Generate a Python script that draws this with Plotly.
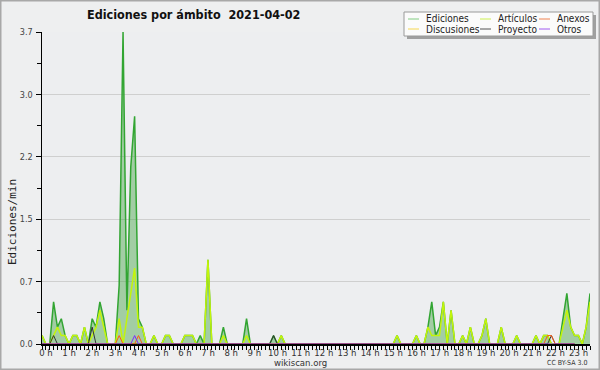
import plotly.graph_objects as go

# 10-minute slots (minutes after midnight), 00:00 .. 23:40
slot_minutes = list(range(0, 1430, 10))

# Edits per minute, one row per hour (6 slots of 10 min)
ediciones = [
    0.1, 0, 0, 0.5, 0.2, 0.3,
    0.1, 0, 0.1, 0.1, 0, 0.2,
    0, 0.3, 0.2, 0.5, 0.3, 0,
    0, 0, 0.7, 3.7, 0.4, 2.1,
    2.7, 0.3, 0.2, 0, 0, 0.1,
    0, 0, 0.1, 0.1, 0, 0,
    0, 0.1, 0.1, 0.1, 0, 0.1,
    0, 1.0, 0, 0, 0, 0.2,
    0, 0, 0, 0, 0, 0.3,
    0, 0, 0, 0, 0, 0,
    0.1, 0, 0.1, 0, 0, 0,
    0, 0, 0, 0, 0, 0,
    0, 0, 0, 0, 0, 0,
    0, 0, 0, 0, 0, 0,
    0, 0, 0, 0, 0, 0,
    0, 0, 0.1, 0, 0, 0,
    0, 0.1, 0, 0, 0.2, 0.5,
    0.1, 0.2, 0.5, 0, 0.4, 0,
    0, 0.1, 0, 0.2, 0, 0,
    0.1, 0.3, 0, 0, 0, 0.2,
    0, 0, 0, 0.1, 0, 0,
    0, 0, 0.1, 0, 0.1, 0.1,
    0, 0, 0, 0.3, 0.6, 0.2,
    0.1, 0.1, 0, 0.2, 0.6,
]
articulos = [
    0.1, 0, 0, 0.1, 0.2, 0.1,
    0.1, 0, 0.1, 0.1, 0, 0.2,
    0, 0.1, 0.2, 0.4, 0.2, 0,
    0, 0, 0.3, 0, 0.3, 0.6,
    0.9, 0.2, 0.2, 0, 0, 0.1,
    0, 0, 0.1, 0.1, 0, 0,
    0, 0.1, 0.1, 0.1, 0, 0,
    0, 1.0, 0, 0, 0, 0.1,
    0, 0, 0, 0, 0, 0.1,
    0, 0, 0, 0, 0, 0,
    0, 0, 0.1, 0, 0, 0,
    0, 0, 0, 0, 0, 0,
    0, 0, 0, 0, 0, 0,
    0, 0, 0, 0, 0, 0,
    0, 0, 0, 0, 0, 0,
    0, 0, 0.1, 0, 0, 0,
    0, 0.1, 0, 0, 0.2, 0.1,
    0.1, 0.1, 0.5, 0, 0.4, 0,
    0, 0.1, 0, 0.2, 0, 0,
    0.1, 0.3, 0, 0, 0, 0.2,
    0, 0, 0, 0.1, 0, 0,
    0, 0, 0.1, 0, 0.1, 0.1,
    0, 0, 0, 0.2, 0.4, 0.2,
    0.1, 0.1, 0, 0.2, 0.5,
]
discusiones = [
    0, 0, 0, 0, 0, 0, 0, 0, 0, 0, 0, 0, 0, 0, 0, 0, 0, 0, 0, 0, 0, 0, 0, 0,
    0, 0, 0, 0, 0, 0, 0, 0, 0, 0, 0, 0, 0, 0, 0, 0, 0, 0, 0, 0, 0, 0, 0, 0,
    0, 0, 0, 0, 0, 0, 0, 0, 0, 0, 0, 0, 0, 0, 0, 0, 0, 0, 0, 0, 0, 0, 0, 0,
    0, 0, 0, 0, 0, 0, 0, 0, 0, 0, 0, 0, 0, 0, 0, 0, 0, 0, 0, 0, 0, 0, 0, 0,
    0, 0, 0, 0, 0, 0, 0, 0, 0, 0, 0, 0, 0, 0, 0, 0, 0, 0, 0, 0, 0, 0, 0, 0,
    0, 0, 0, 0, 0, 0, 0, 0, 0, 0, 0, 0, 0, 0, 0, 0, 0, 0, 0,
]
proyecto = [
    0, 0, 0, 0.1, 0, 0, 0, 0, 0, 0, 0, 0, 0, 0.2, 0, 0, 0, 0, 0, 0, 0, 0, 0, 0,
    0, 0, 0, 0, 0, 0, 0, 0, 0, 0, 0, 0, 0, 0, 0, 0, 0, 0, 0, 0, 0, 0, 0, 0,
    0, 0, 0, 0, 0, 0, 0, 0, 0, 0, 0, 0, 0.1, 0, 0, 0, 0, 0, 0, 0, 0, 0, 0, 0,
    0, 0, 0, 0, 0, 0, 0, 0, 0, 0, 0, 0, 0, 0, 0, 0, 0, 0, 0, 0, 0, 0, 0, 0,
    0, 0, 0, 0, 0, 0, 0, 0, 0, 0, 0, 0, 0, 0, 0, 0, 0, 0, 0, 0, 0, 0, 0, 0,
    0, 0, 0, 0, 0, 0, 0, 0, 0, 0, 0, 0, 0.1, 0, 0, 0, 0, 0, 0,
]
anexos = [
    0, 0, 0, 0, 0, 0, 0, 0, 0, 0, 0, 0, 0, 0, 0, 0, 0, 0, 0, 0, 0.1, 0, 0, 0,
    0, 0.1, 0, 0, 0, 0, 0, 0, 0, 0, 0, 0, 0, 0, 0, 0, 0, 0, 0, 0, 0, 0, 0, 0,
    0, 0, 0, 0, 0, 0, 0, 0, 0, 0, 0, 0, 0, 0, 0, 0, 0, 0, 0, 0, 0, 0, 0, 0,
    0, 0, 0, 0, 0, 0, 0, 0, 0, 0, 0, 0, 0, 0, 0, 0, 0, 0, 0, 0, 0, 0, 0, 0,
    0, 0, 0, 0, 0, 0, 0, 0, 0, 0, 0, 0, 0, 0, 0, 0, 0, 0, 0, 0, 0, 0, 0, 0,
    0, 0, 0, 0, 0, 0, 0, 0, 0, 0, 0, 0.1, 0.1, 0, 0, 0, 0, 0, 0,
]
otros = [
    0, 0, 0, 0, 0, 0, 0, 0, 0, 0, 0, 0, 0, 0, 0, 0, 0, 0, 0, 0, 0, 0, 0, 0,
    0.1, 0, 0, 0, 0, 0, 0, 0, 0, 0, 0, 0, 0, 0, 0, 0, 0, 0, 0, 0, 0, 0, 0, 0,
    0, 0, 0, 0, 0, 0, 0, 0, 0, 0, 0, 0, 0, 0, 0, 0, 0, 0, 0, 0, 0, 0, 0, 0,
    0, 0, 0, 0, 0, 0, 0, 0, 0, 0, 0, 0, 0, 0, 0, 0, 0, 0, 0, 0, 0, 0, 0, 0,
    0, 0, 0, 0, 0, 0, 0, 0, 0, 0, 0, 0, 0, 0, 0, 0, 0, 0, 0, 0, 0, 0, 0, 0,
    0, 0, 0, 0, 0, 0, 0, 0, 0, 0, 0, 0, 0, 0, 0, 0, 0, 0, 0,
]

hour_ticks = list(range(24))
hour_labels = [f"{h} h" for h in hour_ticks]
y_ticks = [0, 0.74, 1.48, 2.22, 2.96, 3.7]
y_labels = ["0.0", "0.7", "1.5", "2.2", "3.0", "3.7"]
y_minor = [0.37, 1.11, 1.85, 2.59, 3.33]

x_hours = [m / 60 for m in slot_minutes]

W, H = 600, 370
L, R, T, B = 42, 10, 32, 26
PW, PH = W - L - R, H - T - B


def px(x):
    return (x - L) / PW


def py(y):
    return (H - B - y) / PH


fig = go.Figure()
fig.add_trace(go.Scatter(x=x_hours, y=ediciones, mode="lines", name="Ediciones",
                         line=dict(color="rgb(50,165,50)", width=1.5),
                         fill="tozeroy", fillcolor="rgba(60,160,60,0.42)"))
fig.add_trace(go.Scatter(x=x_hours, y=discusiones, mode="lines", name="Discusiones",
                         line=dict(color="#f0d000", width=1)))
fig.add_trace(go.Scatter(x=x_hours, y=articulos, mode="lines", name="Artículos",
                         line=dict(color="rgb(195,245,10)", width=1.5)))
fig.add_trace(go.Scatter(x=x_hours, y=proyecto, mode="lines", name="Proyecto",
                         line=dict(color="#333333", width=1)))
fig.add_trace(go.Scatter(x=x_hours, y=anexos, mode="lines", name="Anexos",
                         line=dict(color="#ff5a10", width=1)))
fig.add_trace(go.Scatter(x=x_hours, y=otros, mode="lines", name="Otros",
                         line=dict(color="#7a2cff", width=1)))

FONT = "DejaVu Sans"
FONTC = "DejaVu Sans Condensed"

fig.update_layout(
    width=W, height=H,
    margin=dict(l=L, r=R, t=T, b=B, autoexpand=False),
    paper_bgcolor="#eeeff0",
    plot_bgcolor="#edeef0",
    showlegend=False,
    hovermode=False,
    font=dict(family=FONT, size=10, color="#333"),
    xaxis=dict(
        range=[0, x_hours[-1]],
        tickmode="array", tickvals=hour_ticks, ticktext=hour_labels,
        tickangle=0, automargin=False,
        ticks="outside", ticklen=4, tickcolor="black", tickwidth=1,
        showline=True, linecolor="black", linewidth=2,
        showgrid=False, zeroline=False,
        ticklabelshift=4, ticklabelstandoff=-5,
        tickfont=dict(family=FONTC, size=9.5, color="#333"),
        minor=dict(dtick=1 / 6, tick0=0, ticks="outside", ticklen=4,
                   tickcolor="black", tickwidth=1, showgrid=False),
    ),
    yaxis=dict(
        range=[0, 3.7], automargin=False,
        tickmode="array", tickvals=y_ticks, ticktext=y_labels,
        ticks="outside", ticklen=5, tickcolor="black", tickwidth=1,
        showline=True, linecolor="black", linewidth=1.5,
        showgrid=True, gridcolor="#cfcfcf", gridwidth=1, zeroline=False,
        ticklabelstandoff=1,
        tickfont=dict(family=FONTC, size=9, color="#444"),
        minor=dict(tickmode="array", tickvals=y_minor, ticks="outside",
                   ticklen=4, tickcolor="black", tickwidth=1, showgrid=False),
    ),
)

shapes = []
annotations = []

# outer border
shapes.append(dict(type="rect", xref="paper", yref="paper",
                   x0=px(0.5), x1=px(W - 0.5), y0=py(H - 0.5), y1=py(0.5),
                   line=dict(color="#a8a8a8", width=2), layer="above"))

# title
annotations.append(dict(text="<b>Ediciones por ámbito  2021-04-02</b>", xref="paper", yref="paper",
                        x=px(85), y=py(15), xanchor="left", yanchor="middle", showarrow=False,
                        font=dict(family=FONTC, size=12.5, color="#111")))
# y title
annotations.append(dict(text="Ediciones/min", xref="paper", yref="paper",
                        x=px(12), y=py(222), xanchor="center", yanchor="middle", showarrow=False,
                        textangle=-90, font=dict(family="DejaVu Sans Mono", size=11, color="#222")))
# footer
annotations.append(dict(text="wikiscan.org", xref="paper", yref="paper",
                        x=px(300), y=py(362.5), xanchor="center", yanchor="middle", showarrow=False,
                        font=dict(family=FONTC, size=9.5, color="#333")))
annotations.append(dict(text="CC BY-SA 3.0", xref="paper", yref="paper",
                        x=px(589), y=py(362.5), xanchor="right", yanchor="middle", showarrow=False,
                        font=dict(family=FONTC, size=7, color="#333")))

# legend box with shadow
bx0, bx1, by0, by1 = 404, 593, 12, 36
shapes.append(dict(type="rect", xref="paper", yref="paper",
                   x0=px(bx0 + 3), x1=px(bx1 + 3), y0=py(by1 + 3), y1=py(by0 + 3),
                   line=dict(width=0), fillcolor="#a0a0a0", layer="above"))
shapes.append(dict(type="rect", xref="paper", yref="paper",
                   x0=px(bx0), x1=px(bx1), y0=py(by1), y1=py(by0),
                   line=dict(color="#9a9a9a", width=1), fillcolor="#fbfbfb", layer="above"))

legend_items = [
    ("Ediciones", "rgb(130,205,130)", 408, 19),
    ("Artículos", "rgb(205,240,80)", 480, 19),
    ("Anexos", "rgb(240,130,80)", 539, 19),
    ("Discusiones", "rgb(245,215,80)", 408, 29),
    ("Proyecto", "#555555", 480, 29),
    ("Otros", "rgb(160,90,240)", 539, 29),
]
for name, col, lx, ly in legend_items:
    shapes.append(dict(type="line", xref="paper", yref="paper",
                       x0=px(lx), x1=px(lx + 11), y0=py(ly), y1=py(ly),
                       line=dict(color=col, width=1), layer="above"))
    annotations.append(dict(text=name, xref="paper", yref="paper",
                            x=px(lx + 16), y=py(ly), xanchor="left", yanchor="middle",
                            showarrow=False, font=dict(family=FONTC, size=10, color="#222")))

fig.update_layout(shapes=shapes, annotations=annotations)

fig.write_html("out.html",
               config={"displayModeBar": False, "staticPlot": True},
               post_script="document.body.style.margin='0';document.body.style.padding='0';"
                           "document.body.style.overflow='hidden';")
